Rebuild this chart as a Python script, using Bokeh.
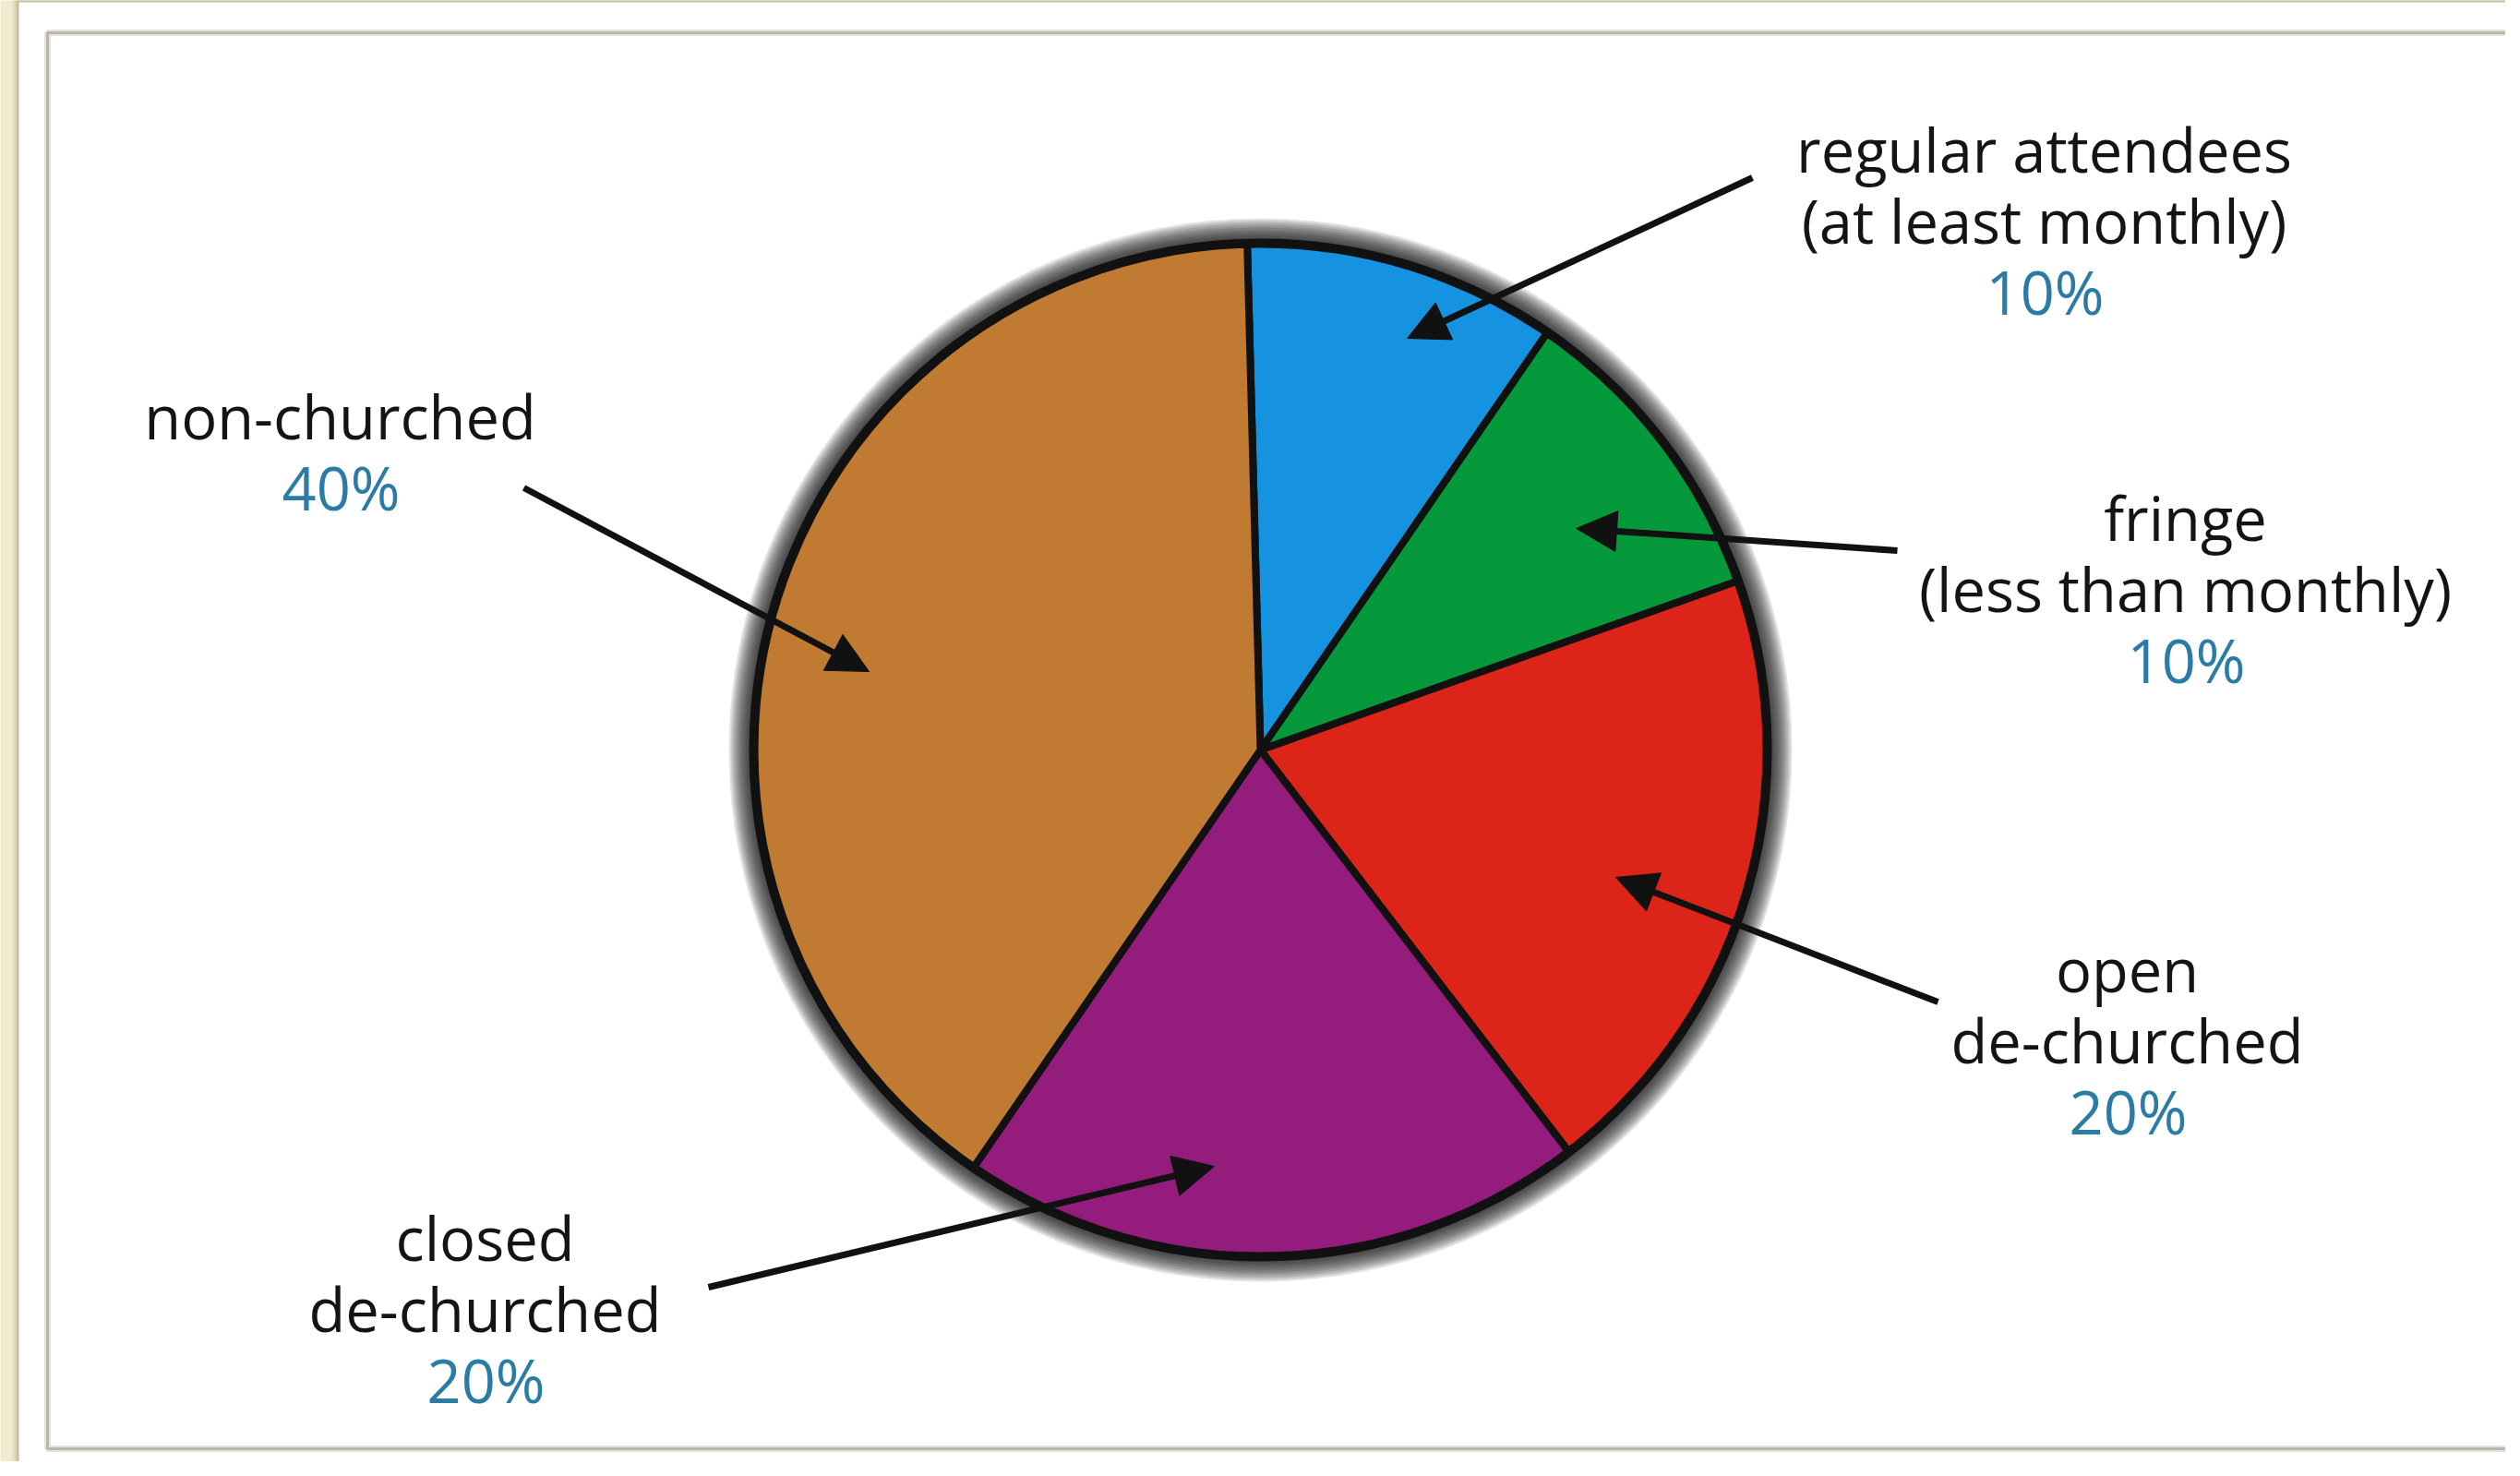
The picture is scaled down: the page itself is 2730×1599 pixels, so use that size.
import math
from bokeh.plotting import figure
from bokeh.models import Range1d, Arrow, NormalHead
from bokeh.core.properties import value
from bokeh.embed import file_html
from bokeh.resources import INLINE

# ---------------- data ----------------
categories = ["regular attendees", "fringe", "open de-churched", "closed de-churched", "non-churched"]
label_lines = [
    ["regular attendees", "(at least monthly)"],
    ["fringe", "(less than monthly)"],
    ["open", "de-churched"],
    ["closed", "de-churched"],
    ["non-churched"],
]
shares = [10, 10, 20, 20, 40]
colors = ["#1592e0", "#05993c", "#dc2418", "#931c7c", "#c17a32"]

# ---------------- layout (page pixel coords, y downwards) ----------------
W, H = 2714, 1583
PAGE_H = 1599


def py(y):
    return PAGE_H - y


CX, CY = 1373, py(820)
R = 552
START_DEG = 91.5
LINE_STEP = 77
FONT = "Open Sans"
FSIZE = "65px"

label_anchor = {
    "regular attendees": (2222, 169),
    "fringe": (2375, 568),
    "open de-churched": (2312, 1057),
    "closed de-churched": (533, 1348),
    "non-churched": (376, 458),
}
arrow_pts = {
    "regular attendees": ((1906, 200), (1532, 374)),
    "fringe": ((2063, 604), (1715, 580)),
    "open de-churched": ((2107, 1093), (1758, 958)),
    "closed de-churched": ((775, 1402), (1323, 1271)),
    "non-churched": ((575, 536), (949, 735)),
}

p = figure(width=W, height=H, output_backend="svg", toolbar_location=None,
           x_range=Range1d(8, 8 + W), y_range=Range1d(py(8 + H), py(8)),
           min_border=0, x_axis_type=None, y_axis_type=None)
p.grid.visible = False
p.outline_line_color = None
p.background_fill_color = "#f4ebcf"
p.border_fill_color = "#f4ebcf"

# white sheet with a soft shadow on its left edge
for i, a in enumerate([0.05, 0.08, 0.12, 0.18]):
    p.quad(left=[20 + 2 * i], right=[2760], top=[py(7)], bottom=[py(1640)],
           fill_color="#7a6e50", fill_alpha=a, line_color=None)
p.quad(left=[28], right=[2760], top=[py(10)], bottom=[py(1640)],
       fill_color="white", line_color=None)
# inner frame
p.quad(left=[59], right=[2790], top=[py(43)], bottom=[py(1577)],
       fill_color=None, line_color="#e6e2d8", line_width=7)
p.quad(left=[59], right=[2790], top=[py(43)], bottom=[py(1577)],
       fill_color=None, line_color="#b9b7b0", line_width=3)

# soft dark halo around the pie
for k in range(1, 13):
    p.circle(x=[CX], y=[CY], radius=R + 2 * k, fill_color="#1a1a1a",
             fill_alpha=0.12, line_color=None)

# wedges computed from the shares
total = float(sum(shares))
starts, ends = [], []
cum = 0.0
for s in shares:
    a0 = math.radians(START_DEG - (cum + s) / total * 360.0)
    a1 = math.radians(START_DEG - cum / total * 360.0)
    starts.append(a0)
    ends.append(a1)
    cum += s
p.wedge(x=[CX] * len(shares), y=[CY] * len(shares), radius=R - 3,
        start_angle=starts, end_angle=ends, fill_color=colors,
        line_color="#111111", line_width=8, line_join="round")
p.circle(x=[CX], y=[CY], radius=R - 3, fill_color=None, line_color="#111111", line_width=10)

# arrows
for cat in categories:
    (tx, ty), (hx, hy) = arrow_pts[cat]
    p.add_layout(Arrow(x_start=tx, y_start=py(ty), x_end=hx, y_end=py(hy),
                       line_color="#111111", line_width=7,
                       end=NormalHead(size=44, fill_color="#111111", line_color="#111111")))

# labels
tx_, ty_, tt_ = [], [], []
px_, py_, pt_ = [], [], []
for cat, lines, s in zip(categories, label_lines, shares):
    ax, ay = label_anchor[cat]
    for i, ln in enumerate(lines):
        tx_.append(ax)
        ty_.append(py(ay + i * LINE_STEP))
        tt_.append(ln)
    px_.append(ax + 1)
    py_.append(py(ay + len(lines) * LINE_STEP))
    pt_.append(f"{s}%")

p.text(x=tx_, y=ty_, text=tt_, text_font=value(FONT), text_font_size=FSIZE,
       text_align="center", text_baseline="middle", text_color="#141414")
p.text(x=px_, y=py_, text=pt_, text_font=value(FONT), text_font_size=FSIZE,
       text_align="center", text_baseline="middle", text_color="#2a7ba6")

open("out.html", "w").write(file_html(p, INLINE))
